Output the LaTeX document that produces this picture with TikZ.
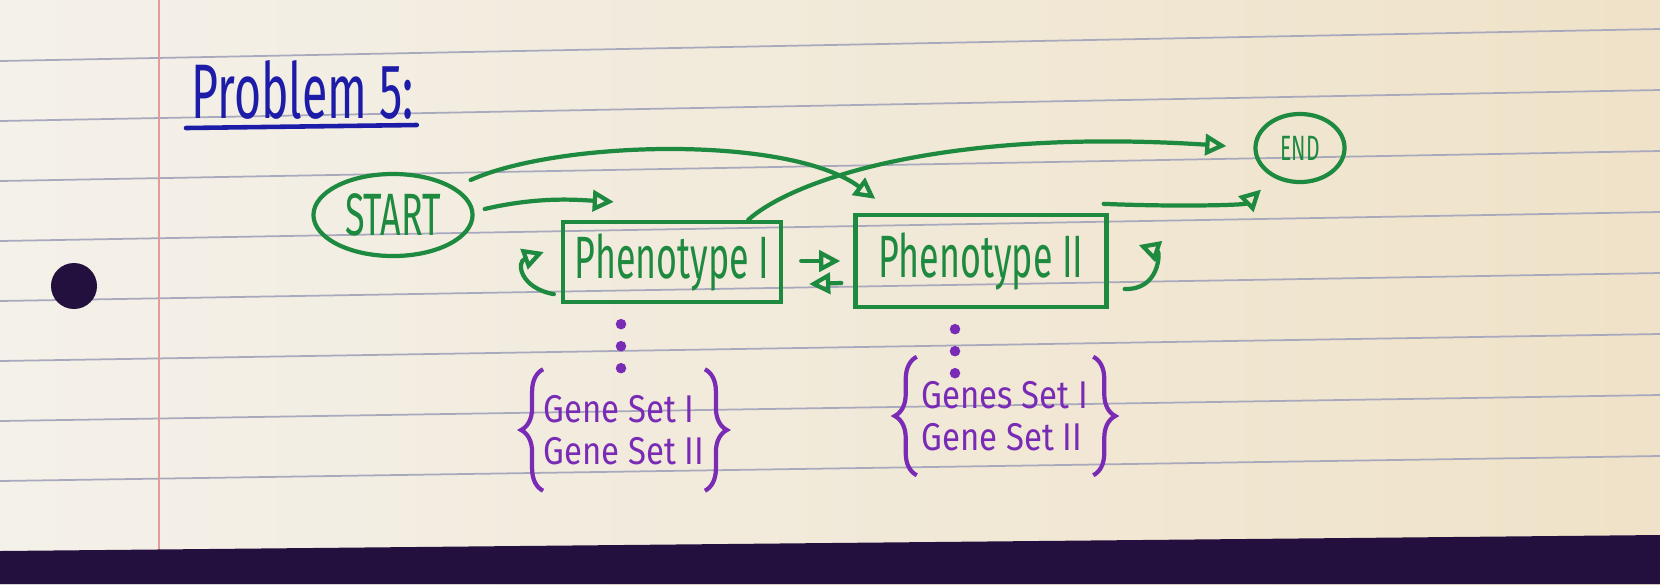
\documentclass[tikz,border=0pt]{standalone}
\usepackage{fontspec}
\usetikzlibrary{shapes.geometric,arrows.meta,calc,decorations.pathreplacing}
\newfontfamily\handfont[FakeStretch=0.6]{Fira Sans}
\newfontfamily\genefont[FakeStretch=0.85]{Fira Sans}
\definecolor{inkgreen}{HTML}{1E8A40}
\definecolor{inkpurple}{HTML}{7A2BB5}
\definecolor{inkblue}{HTML}{1C1CA8}
\definecolor{paperL}{HTML}{F4F1EA}
\definecolor{paperR}{HTML}{EFE2C8}
\definecolor{ruleblue}{HTML}{A9A9BE}
\definecolor{marginred}{HTML}{E39A9A}
\definecolor{bandcol}{HTML}{24103F}
\tikzset{
  ink/.style={draw=inkgreen,line width=1.2pt},
  state/.style={ink,ellipse,inner sep=0pt,text=inkgreen,font={\handfont\fontsize{17}{20}\selectfont}},
  pheno/.style={ink,rectangle,inner sep=0pt,text=inkgreen,font={\handfont\fontsize{17}{20}\selectfont}},
  flow/.style={draw=inkgreen,line width=1.2pt,line cap=round,-{Triangle[open,length=6pt,width=6pt]}},
  genes/.style={inner sep=0pt,align=left,text=inkpurple,font={\genefont\fontsize{11}{12}\selectfont}},
  brc/.style={draw=inkpurple,line width=1.2pt,decorate,decoration={brace,amplitude=0.22cm}},
  dotlink/.style={draw=inkpurple,line width=3pt,line cap=round,dash pattern=on 0pt off 0.22cm,shorten <=0.2cm},
  title/.style={anchor=base west,inner sep=0pt,text=inkblue,font={\handfont\fontsize{22}{24}\selectfont}}
}
\begin{document}
\begin{tikzpicture}[x=0.01cm,y=-0.01cm]
                    \useasboundingbox (0,0) rectangle (1660,584);
                    \shade[left color=paperL,right color=paperR] (0,0) rectangle (1660,584);
                    \foreach \k in {0,...,7}
                        \draw[ruleblue,line width=0.5pt] (0,{61+60*\k}) -- (1660,{29+61*\k});
                    \draw[marginred,line width=0.5pt] (159,0) -- (159,551);
                    \fill[bandcol] (74,286) circle (0.23cm);
                    \fill[bandcol] (0,551) -- (1660,535) -- (1660,584) -- (0,584) -- cycle;
                    \node[title] (ttl) at (191,118) {Problem 5:};
                    \draw[inkblue,line width=1.3pt,line cap=round] ($(ttl.base west)+(-5,10)$) -- ($(ttl.base east)+(2,7)$);
                    \node[state,minimum width=1.59cm,minimum height=0.82cm] (start) at (393,215) {START};
                    \node[state,minimum width=0.89cm,minimum height=0.68cm,font={\handfont\fontsize{10}{12}\selectfont}] (stop) at (1300,148) {END};
                    \node[pheno,minimum width=2.18cm,minimum height=0.8cm] (p1) at (672,262) {Phenotype I};
                    \node[pheno,minimum width=2.51cm,minimum height=0.92cm] (p2) at (981,261) {Phenotype II};
                    \node[genes,minimum width=1.58cm,minimum height=1.2cm] (g1) at (624,430) {Gene Set I\\Gene Set II};
                    \node[genes,minimum width=1.75cm,minimum height=1.17cm] (g2) at (1005,416) {Genes Set I\\Gene Set II};
                    \coordinate (d1) at (621,376);
                    \coordinate (d2) at (955,374);
                    \draw[flow] ($(start.east)+(10,-6)$) .. controls (540,196) and (580,200) .. ($(p1.north west)+(53,-18)$);
                    \draw[flow] ($(start.east)+(-4,-35)$) .. controls (560,140) and (790,135) .. ($(p2.north west)+(22,-14)$);
                    \draw[flow] ($(p1.north east)+(-35,0)$) .. controls (795,178) and (950,128) .. ($(stop.west)+(-27,-2)$);
                    \draw[flow] ($(p2.north east)+(-5,-9)$) .. controls (1180,207) and (1245,205) .. ($(stop.south west)+(-6,16)$);
                    \draw[flow] ($(p1.east)+(18,-1)$) -- ($(p2.west)+(-13,0)$);
                    \draw[flow] ($(p2.west)+(-12,22)$) -- ($(p1.east)+(26,22)$);
                    \draw[flow] ($(p1.south west)+(-7,-10)$) .. controls (520,288) and (516,262) .. ($(p1.west)+(-17,-10)$);
                    \draw[flow] ($(p2.east)+(16,28)$) .. controls (1160,290) and (1160,252) .. ($(p2.east)+(30,-16)$);
                    \draw[dotlink] (p1.south -| d1) -- (d1);
                    \draw[dotlink] (p2.south -| d2) -- (d2);
                    \draw[brc] (g1.south west) -- (g1.north west);
                    \draw[brc] (g1.north east) -- (g1.south east);
                    \draw[brc] (g2.south west) -- (g2.north west);
                    \draw[brc] (g2.north east) -- (g2.south east);
                \end{tikzpicture}
\end{document}
